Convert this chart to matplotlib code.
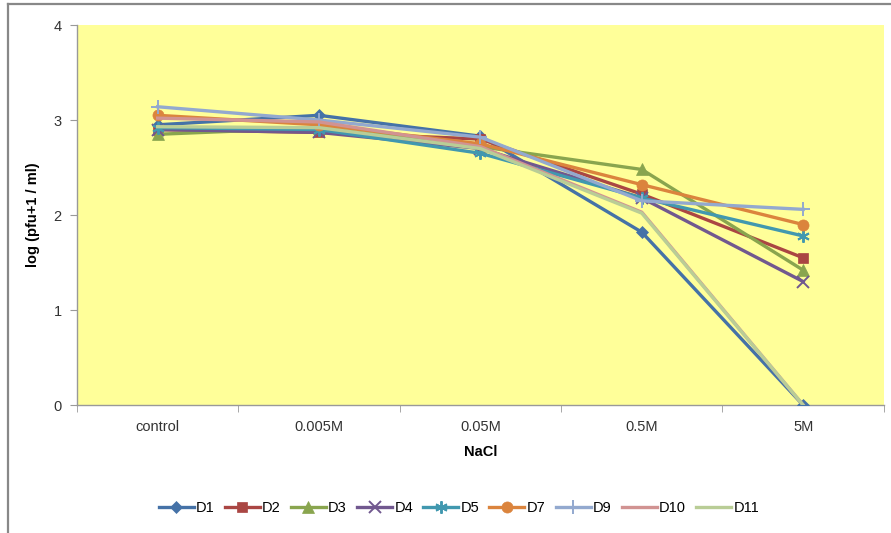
import matplotlib
matplotlib.use("Agg")
import matplotlib.pyplot as plt
from matplotlib.lines import Line2D
import numpy as np

categories = ["control", "0.005M", "0.05M", "0.5M", "5M"]
series_names = ["D1", "D2", "D3", "D4", "D5", "D7", "D9", "D10", "D11"]
d1 = [2.95, 3.05, 2.83, 1.82, 0.0]
d2 = [2.90, 2.87, 2.80, 2.22, 1.55]
d3 = [2.85, 2.92, 2.72, 2.48, 1.42]
d4 = [2.90, 2.87, 2.70, 2.18, 1.30]
d5 = [2.92, 2.90, 2.65, 2.18, 1.78]
d7 = [3.05, 2.95, 2.75, 2.32, 1.90]
d9 = [3.14, 3.00, 2.82, 2.15, 2.06]
d10 = [3.02, 2.98, 2.72, 2.03, 0.0]
d11 = [2.93, 2.92, 2.70, 2.02, 0.0]
values = [d1, d2, d3, d4, d5, d7, d9, d10, d11]

colors = ["#4572A7", "#AA4643", "#89A54E", "#71588F", "#4198AF",
          "#DB843D", "#93A9CF", "#D19392", "#B9CD96"]
markers = ["D", "s", "^", "x", (6, 2, 0), "o", "+", None, None]
msizes = [6, 7, 8, 8, 9, 8, 10, 0, 0]

plt.rcParams["font.family"] = ["Liberation Sans", "DejaVu Sans"]

fig = plt.figure(figsize=(8.91, 5.33), dpi=100)
# outer chart frame (left and top edges)
fig.lines.append(Line2D([0.0085, 0.0085], [0.0, 0.992], transform=fig.transFigure,
                        color="#888888", linewidth=1.6))
fig.lines.append(Line2D([0.0085, 1.0], [0.992, 0.992], transform=fig.transFigure,
                        color="#888888", linewidth=1.6))

ax = fig.add_axes([0.0864, 0.240, 0.9056, 0.713])
ax.set_facecolor("#FFFF99")

x = np.arange(len(categories))
for name, vals, c, m, ms in zip(series_names, values, colors, markers, msizes):
    ax.plot(x, vals, color=c, linewidth=2.4, marker=m, markersize=ms,
            markeredgewidth=1.4 if m in ("x", "+", (6, 2, 0)) else 0.5,
            markeredgecolor=c, markerfacecolor=c, label=name, zorder=3)

ax.set_xlim(-0.5, len(categories) - 0.5)
ax.set_ylim(0, 4)
ax.set_yticks([0, 1, 2, 3, 4])
ax.set_xticks(x)
ax.set_xticklabels(categories)
ax.set_xticks(np.arange(-0.5, len(categories), 1.0), minor=True)
ax.tick_params(axis="x", which="major", length=0, pad=11, labelsize=10.5, colors="#333333")
ax.tick_params(axis="x", which="minor", length=5, color="#999999")
ax.tick_params(axis="y", length=5, color="#999999", labelsize=10.5, labelcolor="#333333", pad=6)

for side in ("top", "right"):
    ax.spines[side].set_visible(False)
for side in ("left", "bottom"):
    ax.spines[side].set_color("#999999")
    ax.spines[side].set_linewidth(1.0)

ax.set_xlabel("NaCl", fontsize=10.5, fontweight="bold", labelpad=8)
ax.set_ylabel("log (pfu+1 / ml)", fontsize=10.5, fontweight="bold", labelpad=10)

leg = fig.legend(loc="center", bbox_to_anchor=(0.515, 0.047), ncol=9, frameon=False,
                 fontsize=10.5, handlelength=2.4, columnspacing=0.7, handletextpad=0.15)

fig.savefig("out.png", dpi=100)
